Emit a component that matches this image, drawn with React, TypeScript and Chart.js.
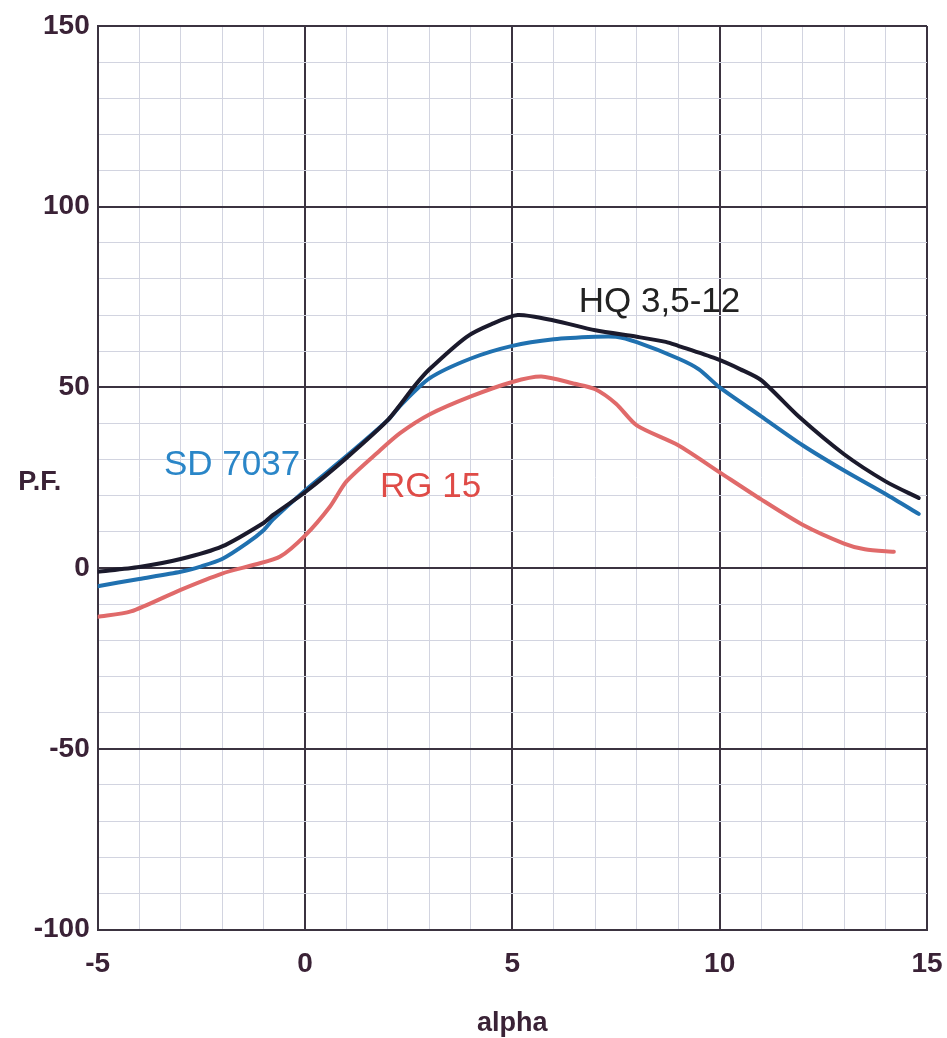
import React, { useEffect, useRef } from 'react';
import { Chart, registerables } from 'chart.js';

Chart.register(...registerables);

// HQ 3,5-12 (black)
const hqAlpha = [-5, -4, -3, -2, -1, -0.77, 0, 1, 2, 2.65, 3, 3.9, 4.5, 5.13, 6, 7, 8, 8.7, 9, 9.9, 10.5, 11, 11.9, 13, 14, 14.8];
const hqPF = [-1, 0.3, 2.5, 6, 12.5, 14.7, 21, 30.5, 41, 50.5, 55, 64, 67.5, 70, 68.5, 65.8, 64, 62.6, 61.5, 58, 55, 52, 42, 31.5, 24, 19.4];

// SD 7037 (blue)
const sdAlpha = [-5, -4, -3, -2.5, -2, -1.4, -1, -0.77, 0, 1, 2, 2.3, 3, 4, 5, 6, 7, 7.5, 8, 9, 9.5, 10, 11, 12, 13, 14, 14.8];
const sdPF = [-5, -3, -1, 0.5, 2.5, 6.9, 10.5, 13.5, 21.5, 31, 41, 45, 52.5, 58, 61.5, 63.3, 64, 64, 62.5, 58, 55, 50, 42, 34, 27, 20.5, 15];

// RG 15 (red)
const rgAlpha = [-5, -4.2, -3, -2, -1.2, -0.6, 0, 0.6, 1, 1.8, 2.3, 3, 4, 5, 5.7, 6.5, 7, 7.5, 8, 9, 10, 11, 12, 13, 13.5, 14.2];
const rgPF = [-13.5, -12, -6, -1.5, 1, 3.2, 9, 17, 24, 32.5, 37.4, 42.5, 47.5, 51.5, 53, 51, 49.5, 45.5, 39.5, 34, 26.5, 19, 12, 6.8, 5.2, 4.5];

const seriesNames = ['HQ 3,5-12', 'SD 7037', 'RG 15'];
const labelAlpha = [8.55, -1.76, 3.03];
const labelPF = [73.6, 28.5, 22.4];

const xMin = -5;
const xMax = 15;
const xMajor = 5;
const yMin = -100;
const yMax = 150;
const yMajor = 50;

const lineColors = ['#1b1a2c', '#2071b0', '#e06a6a'];
const textColors = ['#222222', '#2a86c8', '#df4b47'];
const tickColor = '#3a2236';
const majorColor = '#3b3340';
const minorColor = '#d2d4e0';

const textPlugin = {
  id: 'textPlugin',
  afterDraw(chart: any) {
    const ctx = chart.ctx;
    const xs = chart.scales.x;
    const ys = chart.scales.y;
    const area = chart.chartArea;
    ctx.save();
    ctx.textAlign = 'center';
    ctx.textBaseline = 'middle';
    ctx.font = '35px "Liberation Sans", Arial, sans-serif';
    seriesNames.forEach((t, i) => {
      ctx.fillStyle = textColors[i];
      ctx.fillText(t, xs.getPixelForValue(labelAlpha[i]), ys.getPixelForValue(labelPF[i]));
    });
    ctx.fillStyle = tickColor;
    ctx.font = 'bold 27px "Liberation Sans", Arial, sans-serif';
    ctx.fillText('P.F.', area.left - 58, ys.getPixelForValue(23.8));
    ctx.textBaseline = 'alphabetic';
    ctx.fillText('alpha', (area.left + area.right) / 2, 1031);
    ctx.restore();
  },
};

export default function App() {
  const ref = useRef<HTMLCanvasElement | null>(null);

  useEffect(() => {
    document.body.style.margin = '0';
    const canvas = ref.current;
    if (!canvas) return;
    const mk = (xs: number[], ys: number[]) => xs.map((x, i) => ({ x, y: ys[i] }));
    const chart = new Chart(canvas, {
      type: 'line',
      data: {
        datasets: [
          { label: seriesNames[0], data: mk(hqAlpha, hqPF), borderColor: lineColors[0] },
          { label: seriesNames[1], data: mk(sdAlpha, sdPF), borderColor: lineColors[1] },
          { label: seriesNames[2], data: mk(rgAlpha, rgPF), borderColor: lineColors[2] },
        ].map((d) => ({
          ...d,
          borderWidth: 4,
          pointRadius: 0,
          tension: 0.25,
          fill: false,
          borderCapStyle: 'round' as const,
          borderJoinStyle: 'round' as const,
        })),
      },
      options: {
        animation: false,
        responsive: false,
        maintainAspectRatio: false,
        layout: { padding: { top: 26, right: 20, left: 0, bottom: 0 } },
        plugins: { legend: { display: false }, tooltip: { enabled: false } },
        scales: {
          x: {
            type: 'linear',
            min: xMin,
            max: xMax,
            afterFit: (s: any) => {
              s.height = 108.5;
              s.paddingRight = 0;
            },
            ticks: {
              stepSize: 1,
              autoSkip: false,
              maxRotation: 0,
              padding: 18,
              color: tickColor,
              font: { family: '"Liberation Sans", Arial, sans-serif', size: 28, weight: 'bold' },
              callback: (v: any) => (Number(v) % xMajor === 0 ? String(v) : ''),
            },
            grid: {
              drawTicks: false,
              color: (c: any) => (c.tick && c.tick.value % xMajor === 0 ? majorColor : minorColor),
              lineWidth: (c: any) => (c.tick && c.tick.value % xMajor === 0 ? 2 : 1),
            },
            border: { display: true, color: majorColor, width: 2 },
          },
          y: {
            type: 'linear',
            min: yMin,
            max: yMax,
            afterFit: (s: any) => {
              s.width = 97.7;
            },
            ticks: {
              stepSize: 10,
              autoSkip: false,
              padding: 8,
              color: tickColor,
              font: { family: '"Liberation Sans", Arial, sans-serif', size: 28, weight: 'bold' },
              callback: (v: any) => (Number(v) % yMajor === 0 ? String(v) : ''),
            },
            grid: {
              drawTicks: false,
              color: (c: any) => (c.tick && c.tick.value % yMajor === 0 ? majorColor : minorColor),
              lineWidth: (c: any) => (c.tick && c.tick.value % yMajor === 0 ? 2 : 1),
            },
            border: { display: true, color: majorColor, width: 2 },
          },
        },
      },
      plugins: [textPlugin],
    });
    return () => chart.destroy();
  }, []);

  return (
    <div style={{ width: 947, height: 1038 }}>
      <canvas ref={ref} width={947} height={1038} style={{ display: 'block' }} />
    </div>
  );
}
